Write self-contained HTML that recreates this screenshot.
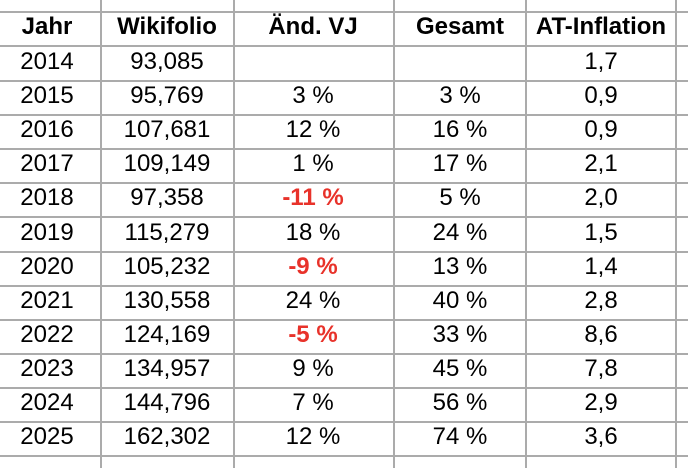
<!DOCTYPE html>
<html>
<head>
<meta charset="utf-8">
<style>
  html, body { margin: 0; padding: 0; background: #fff; }
  body { width: 688px; height: 468px; position: relative; overflow: hidden;
         font-family: "Liberation Sans", Arial, sans-serif; font-size: 24px; color: #000; }
  .h { position: absolute; left: 0; width: 688px; height: 2px; background: #ababab; }
  .v { position: absolute; top: 0; height: 468px; width: 2px; background: #ababab; }
  .t { position: absolute; width: 140px; text-align: center; line-height: 24px; height: 24px; white-space: nowrap; }
  .b { font-weight: bold; }
  .r { color: #e8322a; font-weight: bold; }
</style>
</head>
<body>
<!-- horizontal lines -->
<div class="h" style="top:11px"></div>
<div class="h" style="top:45px"></div>
<div class="h" style="top:80px"></div>
<div class="h" style="top:114px"></div>
<div class="h" style="top:148px"></div>
<div class="h" style="top:182px"></div>
<div class="h" style="top:216px"></div>
<div class="h" style="top:251px"></div>
<div class="h" style="top:285px"></div>
<div class="h" style="top:319px"></div>
<div class="h" style="top:353px"></div>
<div class="h" style="top:387px"></div>
<div class="h" style="top:421px"></div>
<div class="h" style="top:455px"></div>
<!-- vertical lines -->
<div class="v" style="left:100px"></div>
<div class="v" style="left:233px"></div>
<div class="v" style="left:393px"></div>
<div class="v" style="left:525px"></div>
<div class="v" style="left:675px"></div>

<!-- header -->
<div class="t b" style="left:-23px;top:15px">Jahr</div>
<div class="t b" style="left:97px;top:15px">Wikifolio</div>
<div class="t b" style="left:243px;top:15px">Änd. VJ</div>
<div class="t b" style="left:390px;top:15px">Gesamt</div>
<div class="t b" style="left:531px;top:15px">AT-Inflation</div>

<!-- 2014 -->
<div class="t" style="left:-23px;top:50px">2014</div>
<div class="t" style="left:97px;top:50px">93,085</div>
<div class="t" style="left:531px;top:50px">1,7</div>
<!-- 2015 -->
<div class="t" style="left:-23px;top:84px">2015</div>
<div class="t" style="left:97px;top:84px">95,769</div>
<div class="t" style="left:243px;top:84px">3 %</div>
<div class="t" style="left:390px;top:84px">3 %</div>
<div class="t" style="left:531px;top:84px">0,9</div>
<!-- 2016 -->
<div class="t" style="left:-23px;top:118px">2016</div>
<div class="t" style="left:97px;top:118px">107,681</div>
<div class="t" style="left:243px;top:118px">12 %</div>
<div class="t" style="left:390px;top:118px">16 %</div>
<div class="t" style="left:531px;top:118px">0,9</div>
<!-- 2017 -->
<div class="t" style="left:-23px;top:152px">2017</div>
<div class="t" style="left:97px;top:152px">109,149</div>
<div class="t" style="left:243px;top:152px">1 %</div>
<div class="t" style="left:390px;top:152px">17 %</div>
<div class="t" style="left:531px;top:152px">2,1</div>
<!-- 2018 -->
<div class="t" style="left:-23px;top:186px">2018</div>
<div class="t" style="left:97px;top:186px">97,358</div>
<div class="t r" style="left:243px;top:186px">-11 %</div>
<div class="t" style="left:390px;top:186px">5 %</div>
<div class="t" style="left:531px;top:186px">2,0</div>
<!-- 2019 -->
<div class="t" style="left:-23px;top:221px">2019</div>
<div class="t" style="left:97px;top:221px">115,279</div>
<div class="t" style="left:243px;top:221px">18 %</div>
<div class="t" style="left:390px;top:221px">24 %</div>
<div class="t" style="left:531px;top:221px">1,5</div>
<!-- 2020 -->
<div class="t" style="left:-23px;top:255px">2020</div>
<div class="t" style="left:97px;top:255px">105,232</div>
<div class="t r" style="left:243px;top:255px">-9 %</div>
<div class="t" style="left:390px;top:255px">13 %</div>
<div class="t" style="left:531px;top:255px">1,4</div>
<!-- 2021 -->
<div class="t" style="left:-23px;top:289px">2021</div>
<div class="t" style="left:97px;top:289px">130,558</div>
<div class="t" style="left:243px;top:289px">24 %</div>
<div class="t" style="left:390px;top:289px">40 %</div>
<div class="t" style="left:531px;top:289px">2,8</div>
<!-- 2022 -->
<div class="t" style="left:-23px;top:323px">2022</div>
<div class="t" style="left:97px;top:323px">124,169</div>
<div class="t r" style="left:243px;top:323px">-5 %</div>
<div class="t" style="left:390px;top:323px">33 %</div>
<div class="t" style="left:531px;top:323px">8,6</div>
<!-- 2023 -->
<div class="t" style="left:-23px;top:357px">2023</div>
<div class="t" style="left:97px;top:357px">134,957</div>
<div class="t" style="left:243px;top:357px">9 %</div>
<div class="t" style="left:390px;top:357px">45 %</div>
<div class="t" style="left:531px;top:357px">7,8</div>
<!-- 2024 -->
<div class="t" style="left:-23px;top:391px">2024</div>
<div class="t" style="left:97px;top:391px">144,796</div>
<div class="t" style="left:243px;top:391px">7 %</div>
<div class="t" style="left:390px;top:391px">56 %</div>
<div class="t" style="left:531px;top:391px">2,9</div>
<!-- 2025 -->
<div class="t" style="left:-23px;top:425px">2025</div>
<div class="t" style="left:97px;top:425px">162,302</div>
<div class="t" style="left:243px;top:425px">12 %</div>
<div class="t" style="left:390px;top:425px">74 %</div>
<div class="t" style="left:531px;top:425px">3,6</div>
</body>
</html>
